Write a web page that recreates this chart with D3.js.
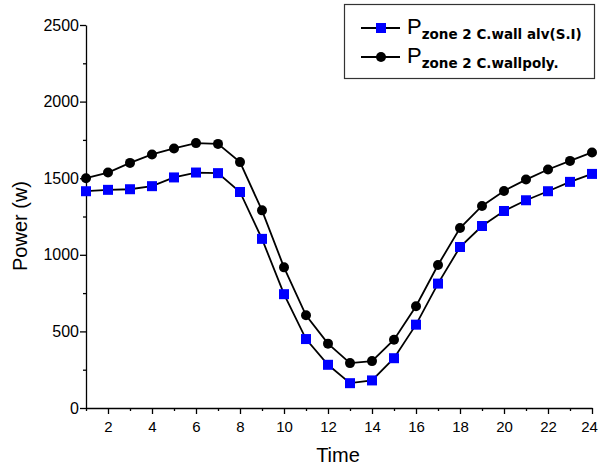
<!DOCTYPE html>
<html>
<head>
<meta charset="utf-8">
<script src="https://cdn.jsdelivr.net/npm/d3@7"></script>
<style>
  body { margin: 0; background: #fff; }
  svg { display: block; font-family: 'Liberation Sans', Arial, sans-serif; }
</style>
</head>
<body>
<div id="chart"></div>
<script>
'use strict';

// hours 1..24
var hours = d3.range(1, 25);
var wallAlv = [1415, 1424, 1428, 1448, 1505, 1537, 1533, 1410, 1104, 743, 450, 282,
  162, 180, 325, 544, 812, 1051, 1188, 1286, 1356, 1415, 1476, 1528];
var wallPoly = [1500, 1537, 1600, 1655, 1694, 1729, 1724, 1605, 1290, 918, 605, 420,
  293, 306, 446, 664, 933, 1175, 1319, 1417, 1491, 1557, 1613, 1668];
var yTicks = [0, 500, 1000, 1500, 2000, 2500];
var xTicks = [2, 4, 6, 8, 10, 12, 14, 16, 18, 20, 22, 24];

var width = 599, height = 470;
var margin = { left: 86, right: 7, top: 25, bottom: 62 };

var svg = d3.select('#chart').append('svg')
  .attr('width', width)
  .attr('height', height);

var x = d3.scaleLinear().domain([1, 24]).range([margin.left, width - margin.right]);
var y = d3.scaleLinear().domain([0, 2500]).range([height - margin.bottom, margin.top]);

// minor ticks first, then major axes on top
svg.append('g')
  .attr('transform', 'translate(0,' + y(0) + ')')
  .call(d3.axisBottom(x).tickValues(d3.range(1, 25, 2)).tickSize(3).tickFormat(''))
  .call(function (g) { g.select('.domain').remove(); });
svg.append('g')
  .attr('transform', 'translate(' + x(1) + ',0)')
  .call(d3.axisLeft(y).tickValues([250, 750, 1250, 1750, 2250]).tickSize(3).tickFormat(''))
  .call(function (g) { g.select('.domain').remove(); });

var xAxis = svg.append('g')
  .attr('transform', 'translate(0,' + y(0) + ')')
  .call(d3.axisBottom(x).tickValues(xTicks).tickSize(6).tickSizeOuter(0)
    .tickPadding(7).tickFormat(d3.format('d')));
var yAxis = svg.append('g')
  .attr('transform', 'translate(' + x(1) + ',0)')
  .call(d3.axisLeft(y).tickValues(yTicks).tickSize(6).tickSizeOuter(0)
    .tickPadding(1).tickFormat(d3.format('d')));

[xAxis, yAxis].forEach(function (g, i) {
  g.selectAll('text').attr('font-size', i === 0 ? 15 : 16).attr('fill', '#000')
    .attr('font-family', "'Liberation Sans', Arial, sans-serif");
  g.selectAll('line, path').attr('stroke', '#000').attr('stroke-width', 1.3);
});
svg.selectAll('.tick line').attr('stroke', '#000').attr('stroke-width', 1.3);
// last label sits on the window edge, nudge it in a little
xAxis.selectAll('.tick text').filter(function (d) { return d === 24; }).attr('dx', -3);

svg.append('text')
  .attr('x', 338).attr('y', 462)
  .attr('text-anchor', 'middle')
  .attr('font-size', 20)
  .text('Time');

svg.append('text')
  .attr('transform', 'translate(27,226) rotate(-90)')
  .attr('text-anchor', 'middle')
  .attr('font-size', 20)
  .text('Power (w)');

var line = d3.line()
  .x(function (d, i) { return x(hours[i]); })
  .y(function (d) { return y(d); });

function drawSeries(vals, shape, color) {
  var g = svg.append('g');
  g.append('path')
    .datum(vals)
    .attr('d', line)
    .attr('fill', 'none')
    .attr('stroke', '#000')
    .attr('stroke-width', 1.8);
  if (shape === 'square') {
    g.selectAll('rect').data(vals).join('rect')
      .attr('x', function (d, i) { return x(hours[i]) - 5; })
      .attr('y', function (d) { return y(d) - 5; })
      .attr('width', 10).attr('height', 10)
      .attr('fill', color);
  } else {
    g.selectAll('circle').data(vals).join('circle')
      .attr('cx', function (d, i) { return x(hours[i]); })
      .attr('cy', function (d) { return y(d); })
      .attr('r', 5)
      .attr('fill', color);
  }
}

drawSeries(wallPoly, 'circle', '#000');
drawSeries(wallAlv, 'square', '#0000ff');

// legend
var lg = svg.append('g');
lg.append('rect')
  .attr('x', 344.5).attr('y', 4.5)
  .attr('width', 250).attr('height', 74)
  .attr('fill', '#fff')
  .attr('stroke', '#333').attr('stroke-width', 1.2);

var legendRows = [
  { shape: 'square', color: '#0000ff', sub1: 'zone 2 C.wall ', sub2: 'alv(S.I)', y: 28 },
  { shape: 'circle', color: '#000', sub1: 'zone 2 C.wall', sub2: 'poly.', y: 57 }
];
legendRows.forEach(function (r) {
  lg.append('line')
    .attr('x1', 361).attr('x2', 400)
    .attr('y1', r.y).attr('y2', r.y)
    .attr('stroke', '#000').attr('stroke-width', 1.8);
  if (r.shape === 'square') {
    lg.append('rect').attr('x', 376).attr('y', r.y - 5).attr('width', 10).attr('height', 10).attr('fill', r.color);
  } else {
    lg.append('circle').attr('cx', 381).attr('cy', r.y).attr('r', 5).attr('fill', r.color);
  }
  var t = lg.append('text').attr('x', 407).attr('y', r.y + 6).attr('font-size', 22);
  t.append('tspan').text('P');
  t.append('tspan').attr('dy', 5).attr('font-size', 13.5).attr('font-weight', 'bold')
    .attr('font-family', "'DejaVu Sans', Verdana, sans-serif").text(r.sub1);
  t.append('tspan').attr('font-size', 13.5).attr('font-weight', 'bold')
    .attr('font-family', "'DejaVu Sans', Verdana, sans-serif").text(r.sub2);
});
</script>
</body>
</html>
